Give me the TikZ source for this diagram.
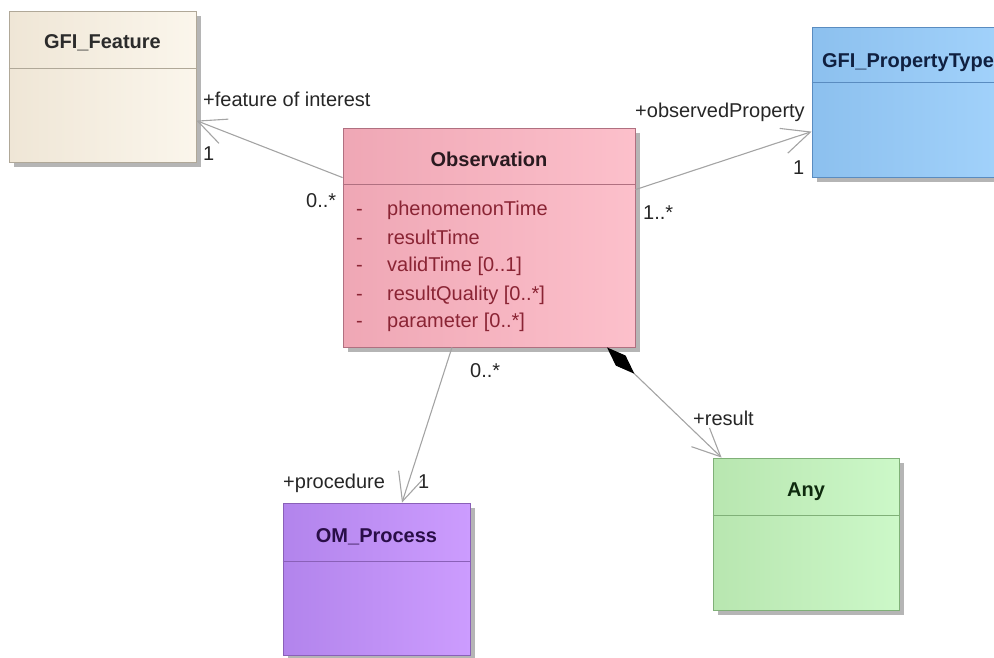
\documentclass[tikz,border=0pt]{standalone}
\usepackage{fontspec}
\setmainfont{Liberation Sans}
\usetikzlibrary{arrows.meta,shadows,calc}

% class fills (left/right of the horizontal shading), borders, title ink
\definecolor{featL}{HTML}{EFE6D6}\definecolor{featR}{HTML}{FBF6EC}\definecolor{featLine}{HTML}{B0A898}
\definecolor{propL}{HTML}{8CC0EE}\definecolor{propR}{HTML}{A2D2FB}\definecolor{propLine}{HTML}{5A8CC0}
\definecolor{obsL}{HTML}{EFA7B5}\definecolor{obsR}{HTML}{FCC0CB}\definecolor{obsLine}{HTML}{B07080}
\definecolor{procL}{HTML}{B284EC}\definecolor{procR}{HTML}{CC9CFE}\definecolor{procLine}{HTML}{8A60B8}
\definecolor{anyL}{HTML}{B8E6B0}\definecolor{anyR}{HTML}{CCF8C8}\definecolor{anyLine}{HTML}{80B078}
\definecolor{featInk}{HTML}{2B2B2B}\definecolor{propInk}{HTML}{102040}
\definecolor{obsInk}{HTML}{2A1A20}\definecolor{procInk}{HTML}{2A0E48}\definecolor{anyInk}{HTML}{0E2A0E}
\definecolor{attrInk}{HTML}{8A2434}
\definecolor{linkGray}{HTML}{A4A4A4}
\definecolor{labelInk}{HTML}{262626}

\tikzset{
  classbox/.style={rectangle, inner sep=0pt, line width=0.8pt,
    drop shadow={shadow xshift=5pt, shadow yshift=-5pt, fill=black!32, opacity=0.9}},
  classtitle/.style={font=\fontsize{20}{24}\selectfont\bfseries, inner sep=0pt},
  divider/.style={line width=0.8pt},
  attr/.style={font=\fontsize{20}{24}\selectfont, text=attrInk, inner sep=0pt, anchor=base west},
  role/.style={font=\fontsize{20}{24}\selectfont, text=labelInk, inner sep=0pt, anchor=base west},
  assoc/.style={draw=linkGray, line width=1.1pt,
    -{Straight Barb[length=28pt, width=26pt, line width=1.1pt]}},
  compose/.style={draw=linkGray, line width=1.1pt,
    {Diamond[length=38pt, width=14pt, color=black, fill=black]}-{Straight Barb[length=28pt, width=26pt, line width=1.1pt]}},
}

\begin{document}
\begin{tikzpicture}[x=1pt, y=-1pt]
\useasboundingbox (0,0) rectangle (994,657);
\clip (0,0) rectangle (994,657);

% ---- classes ----
\node[classbox, draw=featLine, left color=featL, right color=featR,
      minimum width=187pt, minimum height=151pt] (feat) at (102.5,86.5) {};
\draw[divider, featLine] ([yshift=-58pt]feat.north west) -- ([yshift=-58pt]feat.north east);
\node[classtitle, text=featInk] (featname) at ([yshift=-32pt]feat.north) {GFI\_Feature};

\node[classbox, draw=propLine, left color=propL, right color=propR,
      minimum width=192pt, minimum height=150pt] (prop) at (908,102) {};
\draw[divider, propLine] ([yshift=-56pt]prop.north west) -- ([yshift=-56pt]prop.north east);
\node[classtitle, text=propInk] (propname) at ([yshift=-36pt]prop.north) {GFI\_PropertyType};

\node[classbox, draw=obsLine, left color=obsL, right color=obsR,
      minimum width=292pt, minimum height=219pt] (obs) at (489,237.5) {};
\draw[divider, obsLine] ([yshift=-57pt]obs.north west) -- ([yshift=-57pt]obs.north east);
\node[classtitle, text=obsInk] (obsname) at ([yshift=-32pt]obs.north) {Observation};

\node[classbox, draw=procLine, left color=procL, right color=procR,
      minimum width=187pt, minimum height=152pt] (proc) at (376.5,579) {};
\draw[divider, procLine] ([yshift=-59pt]proc.north west) -- ([yshift=-59pt]proc.north east);
\node[classtitle, text=procInk] (procname) at ([yshift=-34pt]proc.north) {OM\_Process};

\node[classbox, draw=anyLine, left color=anyL, right color=anyR,
      minimum width=186pt, minimum height=152pt] (any) at (806,534) {};
\draw[divider, anyLine] ([yshift=-58pt]any.north west) -- ([yshift=-58pt]any.north east);
\node[classtitle, text=anyInk] (anyname) at ([yshift=-34pt]any.north) {Any};

% ---- attributes of Observation ----
\foreach \row/\y/\txt in {1/215/phenomenonTime, 2/244/resultTime, 3/271/{validTime [0..1]},
                          4/300/{resultQuality [0..*]}, 5/327/{parameter [0..*]}} {
  \node[attr] (dash\row) at (356,\y) {-};
  \node[attr] (attr\row) at (387,\y) {\txt};
}

% ---- associations ----
\draw[assoc] ([yshift=-50pt]obs.north west) -- ([yshift=-110pt]feat.north east);
\draw[assoc] ([yshift=-62pt]obs.north east) -- ([yshift=-105pt]prop.north west);
\draw[assoc] ([xshift=-37pt]obs.south) -- ([xshift=25.5pt]proc.north);
\draw[compose] ([xshift=118pt]obs.south) -- ([xshift=9pt]any.north west);

% ---- role names and multiplicities ----
\node[role] (featrole) at (203,106) {+feature of interest};
\node[role] (featmult) at (203,160) {1};
\node[role] (obsmultL) at (306,207) {0..*};
\node[role] (proprole) at (635,117) {+observedProperty};
\node[role] (propmult) at (793,174) {1};
\node[role] (obsmultR) at (643,219) {1..*};
\node[role] (obsmultB) at (470,377) {0..*};
\node[role] (anyrole) at (693,425) {+result};
\node[role] (procrole) at (283,488) {+procedure};
\node[role] (procmult) at (418,488) {1};
\end{tikzpicture}
\end{document}
